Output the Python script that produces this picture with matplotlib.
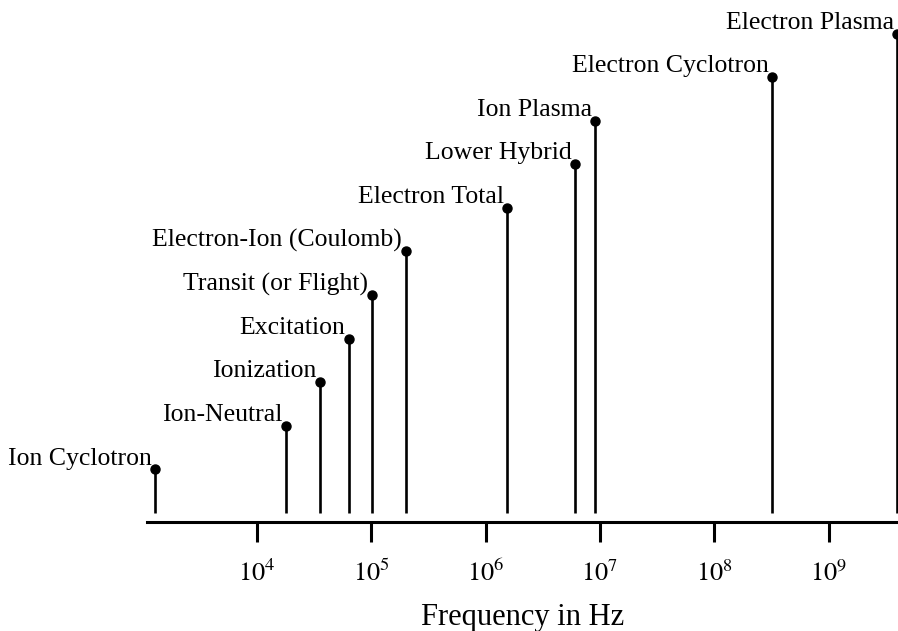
import numpy as np
import matplotlib
matplotlib.use("Agg")
import matplotlib.pyplot as plt

plt.rcParams["font.family"] = ["Liberation Serif", "DejaVu Serif"]
plt.rcParams["mathtext.fontset"] = "stix"

# characteristic plasma frequencies (Hz), ordered low to high
names = [
    "Ion Cyclotron", "Ion-Neutral", "Ionization", "Excitation",
    "Transit (or Flight)", "Electron-Ion (Coulomb)", "Electron Total",
    "Lower Hybrid", "Ion Plasma", "Electron Cyclotron", "Electron Plasma",
]
freqs = [1.29e3, 1.79e4, 3.55e4, 6.35e4, 1.01e5, 2.0e5, 1.55e6,
         6.1e6, 9.1e6, 3.2e8, 4.0e9]
levels = [1, 2, 3, 4, 5, 6, 7, 8, 9, 10, 11]
tick_vals = [1e4, 1e5, 1e6, 1e7, 1e8, 1e9]
tick_text = [r"$10^{4}$", r"$10^{5}$", r"$10^{6}$", r"$10^{7}$", r"$10^{8}$", r"$10^{9}$"]

fig = plt.figure(figsize=(8.98, 6.31), dpi=100)
ax = fig.add_axes([147 / 898, (631 - 522) / 631, 751 / 898, 522 / 631])

ax.vlines(freqs, 0, levels, color="black", linewidth=1.9)
ax.plot(freqs, levels, "o", color="black", markersize=6.5, clip_on=False)

for name, f, lv in zip(names, freqs, levels):
    ax.annotate(name, (f, lv), xytext=(-2.5, 3.5), textcoords="offset points",
                ha="right", va="baseline", fontsize=18.5)

ax.set_xscale("log")
ax.set_xlim(10 ** 3.038, 10 ** 9.608)
ax.set_ylim(-0.206, 11.77)

ax.set_xticks(tick_vals)
ax.set_xticklabels(tick_text)
ax.xaxis.set_minor_locator(matplotlib.ticker.NullLocator())
ax.tick_params(axis="x", direction="out", length=14.5, width=2.2, pad=13,
               labelsize=19)
ax.set_yticks([])

for side in ["top", "right", "left"]:
    ax.spines[side].set_visible(False)
ax.spines["bottom"].set_linewidth(2.2)

ax.set_xlabel("Frequency in Hz", fontsize=22, labelpad=12)

fig.savefig("out.png", dpi=100)
